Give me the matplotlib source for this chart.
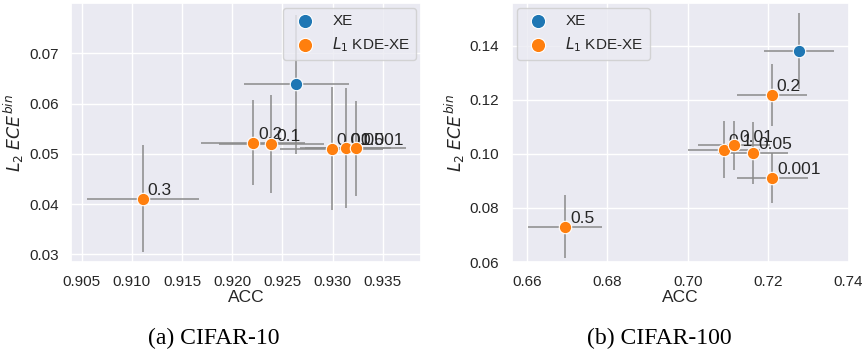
import matplotlib
matplotlib.use("Agg")
import matplotlib.pyplot as plt
import seaborn as sns

sns.set_theme(style="darkgrid")
plt.rcParams['font.family'] = ['Liberation Sans', 'DejaVu Sans']

# ---- data: CIFAR-10 ----
c10_labels = ['0.3', '0.2', '0.1', '0.01', '0.05', '0.001']
c10_acc = [0.9111, 0.9221, 0.9239, 0.9299, 0.9313, 0.9323]
c10_ece = [0.0411, 0.0522, 0.0519, 0.0510, 0.0511, 0.0511]
c10_acc_err = [0.0056, 0.0052, 0.0052, 0.0051, 0.0045, 0.0050]
c10_ece_err = [0.0106, 0.0085, 0.0097, 0.0122, 0.0119, 0.0094]
c10_xe_acc = [0.9264]
c10_xe_ece = [0.0638]
c10_xe_acc_err = [0.0052]
c10_xe_ece_err = [0.0138]

# ---- data: CIFAR-100 ----
c100_labels = ['0.5', '0.2', '0.1', '0.05', '0.01', '0.001']
c100_acc = [0.6695, 0.7209, 0.7090, 0.7163, 0.7115, 0.7210]
c100_ece = [0.0731, 0.1218, 0.1015, 0.1003, 0.1031, 0.0910]
c100_acc_err = [0.0092, 0.0087, 0.0089, 0.0087, 0.0089, 0.0088]
c100_ece_err = [0.0115, 0.0114, 0.0105, 0.0115, 0.0092, 0.0092]
c100_xe_acc = [0.7277]
c100_xe_ece = [0.1380]
c100_xe_acc_err = [0.0087]
c100_xe_ece_err = [0.0142]

c10_xticks = [0.905, 0.910, 0.915, 0.920, 0.925, 0.930, 0.935]
c10_yticks = [0.03, 0.04, 0.05, 0.06, 0.07]
c100_xticks = [0.66, 0.68, 0.70, 0.72, 0.74]
c100_yticks = [0.06, 0.08, 0.10, 0.12, 0.14]

BLUE = '#1f77b4'
ORANGE = '#ff7f0e'
ERR = '#8a8a8a'

fig = plt.figure(figsize=(8.65, 3.5), dpi=100)
ax1 = fig.add_axes([71/865, 88/350, 350/865, 259/350])
ax2 = fig.add_axes([512/865, 88/350, 337/865, 259/350])


def draw(ax, xe_acc, xe_ece, xe_aerr, xe_eerr, acc, ece, aerr, eerr, labels):
    ax.errorbar(xe_acc, xe_ece, xerr=xe_aerr, yerr=xe_eerr, fmt='none',
                ecolor=ERR, elinewidth=1.1, zorder=2)
    ax.errorbar(acc, ece, xerr=aerr, yerr=eerr, fmt='none',
                ecolor=ERR, elinewidth=1.1, zorder=2)
    ax.scatter(xe_acc, xe_ece, s=80, color=BLUE, edgecolor='white',
               linewidth=0.8, zorder=4, label='XE')
    ax.scatter(acc, ece, s=80, color=ORANGE, edgecolor='white',
               linewidth=0.8, zorder=4, label='$L_1$ KDE-XE')
    for a, e, lab in zip(acc, ece, labels):
        ax.annotate(lab, (a, e), xytext=(3.5, 0.5), textcoords='offset points',
                    fontsize=12.5, color='.15', ha='left', va='bottom', zorder=3)
    ax.set_xlabel('ACC', fontsize=12.5, labelpad=1)
    ax.set_ylabel('$L_2$ $ECE^{bin}$', fontsize=12.5, labelpad=2)
    ax.tick_params(labelsize=11, pad=3)


draw(ax1, c10_xe_acc, c10_xe_ece, c10_xe_acc_err, c10_xe_ece_err,
     c10_acc, c10_ece, c10_acc_err, c10_ece_err, c10_labels)
ax1.set_xlim(0.90395, 0.93881)
ax1.set_ylim(0.02847, 0.0800)
ax1.set_xticks(c10_xticks)
ax1.set_xticklabels([f'{t:.3f}' for t in c10_xticks])
ax1.set_yticks(c10_yticks)
ax1.set_yticklabels([f'{t:.2f}' for t in c10_yticks])
ax1.legend(loc='upper right', fontsize=11, frameon=True, borderaxespad=0.3,
           markerscale=1.15)

draw(ax2, c100_xe_acc, c100_xe_ece, c100_xe_acc_err, c100_xe_ece_err,
     c100_acc, c100_ece, c100_acc_err, c100_ece_err, c100_labels)
ax2.set_xlim(0.65627, 0.7401)
ax2.set_ylim(0.0600, 0.15577)
ax2.set_xticks(c100_xticks)
ax2.set_xticklabels([f'{t:.2f}' for t in c100_xticks])
ax2.set_yticks(c100_yticks)
ax2.set_yticklabels([f'{t:.2f}' for t in c100_yticks])
ax2.legend(loc='upper left', fontsize=11, frameon=True, borderaxespad=0.3,
           markerscale=1.15)

fig.text(214/865, 1 - 338/350, '(a) CIFAR-10', ha='center', va='center',
         fontsize=17, family=['Liberation Serif', 'DejaVu Serif'], color='black')
fig.text(659/865, 1 - 338/350, '(b) CIFAR-100', ha='center', va='center',
         fontsize=17, family=['Liberation Serif', 'DejaVu Serif'], color='black')

fig.savefig('out.png', dpi=100, facecolor='white')
